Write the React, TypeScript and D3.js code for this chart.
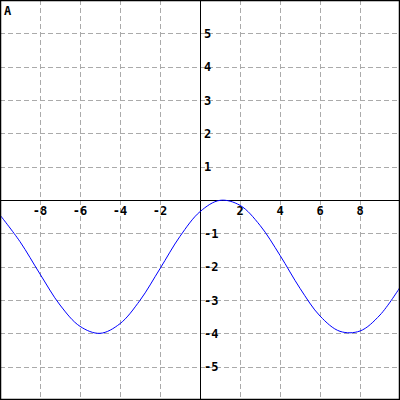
import React, { useRef, useEffect } from "react";
import * as d3 from "d3";

// Curve points (x, y)
const xValues = [-10, -9, -8, -7, -6, -5, -4, -3, -2, -1, 0, 1, 2, 3, 4, 5, 6, 7, 8, 9, 10];
const yValues = [-0.45, -1.25, -2.22, -3.15, -3.79, -4.0, -3.71, -3.01, -2.06, -1.09, -0.35, -0.01, -0.16, -0.76, -1.66, -2.65, -3.48, -3.94, -3.93, -3.45, -2.62];

// Tick labels
const xTicks = [-8, -6, -4, -2, 2, 4, 6, 8];
const yTicks = [-5, -4, -3, -2, -1, 1, 2, 3, 4, 5];
const title = "A";

function App() {
    const svgRef = useRef<SVGSVGElement>(null);

    useEffect(() => {
        const w = 400;
        const h = 400;
        const svg = d3.select(svgRef.current);
        svg.selectAll("*").remove();

        const x = d3.scaleLinear().domain([-10, 10]).range([0, w]);
        const y = d3.scaleLinear().domain([-6, 6]).range([h, 0]);

        svg.append("rect")
            .attr("width", w)
            .attr("height", h)
            .attr("fill", "#fff");

        // dashed grid
        svg.append("g")
            .selectAll("line")
            .data(xTicks)
            .join("line")
            .attr("x1", d => x(d) + 0.5)
            .attr("x2", d => x(d) + 0.5)
            .attr("y1", 0)
            .attr("y2", h)
            .attr("stroke", "#aaa")
            .attr("stroke-dasharray", "5,3");
        svg.append("g")
            .selectAll("line")
            .data(yTicks)
            .join("line")
            .attr("x1", 0)
            .attr("x2", w)
            .attr("y1", d => Math.round(y(d)) + 0.5)
            .attr("y2", d => Math.round(y(d)) + 0.5)
            .attr("stroke", "#aaa")
            .attr("stroke-dasharray", "5,3");

        // axes
        svg.append("line")
            .attr("x1", 0).attr("x2", w)
            .attr("y1", y(0) + 0.5).attr("y2", y(0) + 0.5)
            .attr("stroke", "#000");
        svg.append("line")
            .attr("x1", x(0) + 0.5).attr("x2", x(0) + 0.5)
            .attr("y1", 0).attr("y2", h)
            .attr("stroke", "#000");

        const font = "'DejaVu Sans Mono', monospace";

        svg.append("g")
            .selectAll("text")
            .data(xTicks)
            .join("text")
            .attr("x", d => x(d))
            .attr("y", y(0) + 15)
            .attr("text-anchor", "middle")
            .attr("font-family", font)
            .attr("font-weight", "bold")
            .attr("font-size", 12)
            .text(d => d);

        svg.append("g")
            .selectAll("text")
            .data(yTicks)
            .join("text")
            .attr("x", x(0) + 4)
            .attr("y", d => y(d) + 4.5)
            .attr("font-family", font)
            .attr("font-weight", "bold")
            .attr("font-size", 12)
            .text(d => d);

        svg.append("text")
            .attr("x", 4)
            .attr("y", 15)
            .attr("font-family", font)
            .attr("font-weight", "bold")
            .attr("font-size", 12)
            .text(title);

        // the curve
        const line = d3.line<number>()
            .x((d, i) => x(xValues[i]))
            .y(d => y(d))
            .curve(d3.curveCatmullRom.alpha(0.5));

        svg.append("path")
            .datum(yValues)
            .attr("d", line)
            .attr("fill", "none")
            .attr("stroke", "#0000ff")
            .attr("stroke-width", 1);

        // frame
        svg.append("rect")
            .attr("x", 0.5)
            .attr("y", 0.5)
            .attr("width", w - 1)
            .attr("height", h - 1)
            .attr("fill", "none")
            .attr("stroke", "#000")
            .attr("stroke-width", 1.5);
    }, []);

    return (
        <svg ref={svgRef} width={400} height={400}
            style={{ position: "absolute", left: 0, top: 0 }}></svg>
    );
}

export default App;
